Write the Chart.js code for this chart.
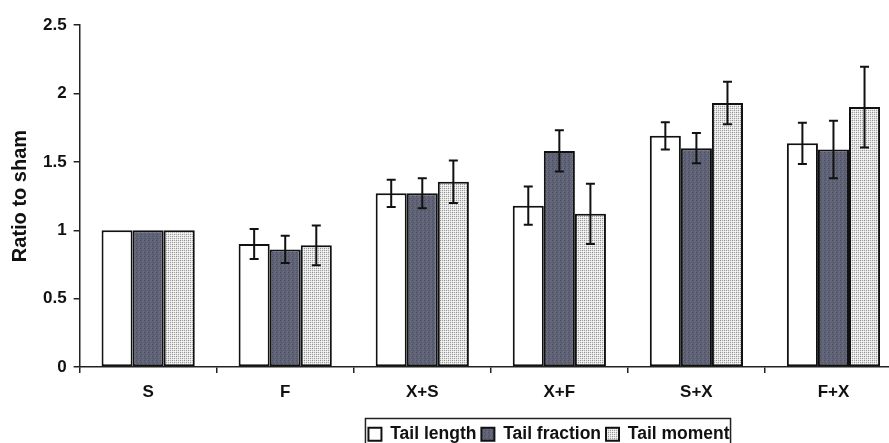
<!DOCTYPE html>
<html>
<head>
<meta charset="utf-8">
<script src="https://cdn.jsdelivr.net/npm/chart.js@4.4.1/dist/chart.umd.min.js"></script>
<style>
  html, body { margin: 0; padding: 0; background: #ffffff; overflow: hidden; }
  #wrap { position: relative; width: 904px; height: 443px; }
</style>
</head>
<body>
<div id="wrap"><canvas id="chart"></canvas></div>
<script>
// Comet assay measures, expressed as ratio to sham, per exposure group
const categories = ['S', 'F', 'X+S', 'X+F', 'S+X', 'F+X'];
const tailLength = [1.00, 0.90, 1.27, 1.18, 1.69, 1.635];
const tailLengthErr = [0, 0.11, 0.10, 0.14, 0.10, 0.15];
const tailFraction = [1.00, 0.86, 1.27, 1.58, 1.60, 1.59];
const tailFractionErr = [0, 0.10, 0.11, 0.15, 0.11, 0.21];
const tailMoment = [1.00, 0.89, 1.355, 1.12, 1.93, 1.90];
const tailMomentErr = [0, 0.145, 0.155, 0.22, 0.155, 0.295];
const yTicks = [0, 0.5, 1, 1.5, 2, 2.5];

const FONT = '"Liberation Sans", Arial, Helvetica, sans-serif';

// Stippled fills for the shaded bars
function makePattern(bg, dots) {
  const c = document.createElement('canvas');
  c.width = 4; c.height = 4;
  const g = c.getContext('2d');
  g.fillStyle = bg;
  g.fillRect(0, 0, 4, 4);
  dots.forEach(([x, y, col]) => { g.fillStyle = col; g.fillRect(x, y, 1, 1); });
  return g.createPattern(c, 'repeat');
}
const darkFill = makePattern('#5e6173', [
  [0, 0, '#4c4f60'], [2, 1, '#70738a'], [1, 2, '#53566a'], [3, 3, '#6c6f82'], [3, 0, '#676a7c']
]);
const lightFill = makePattern('#e2e2e2', [
  [0, 0, '#8f8f8f'], [2, 0, '#ababab'], [0, 2, '#ababab'], [2, 2, '#9a9a9a'],
  [1, 1, '#ffffff'], [3, 3, '#ffffff'], [3, 1, '#f2f2f2'], [1, 3, '#f2f2f2']
]);

// Error bars drawn on each bar through the value scale
const errorBars = {
  id: 'errorBars',
  afterDatasetsDraw(chart) {
    const ctx = chart.ctx;
    const y = chart.scales.y;
    chart.data.datasets.forEach((ds, i) => {
      const meta = chart.getDatasetMeta(i);
      meta.data.forEach((bar, j) => {
        const e = ds.errors[j];
        if (!e) return;
        const v = ds.data[j];
        const top = y.getPixelForValue(v + e);
        const bot = y.getPixelForValue(v - e);
        const x = bar.x;
        ctx.save();
        ctx.strokeStyle = '#111111';
        ctx.lineWidth = 2;
        ctx.beginPath();
        ctx.moveTo(x, top); ctx.lineTo(x, bot);
        ctx.moveTo(x - 4.5, top); ctx.lineTo(x + 4.5, top);
        ctx.moveTo(x - 4.5, bot); ctx.lineTo(x + 4.5, bot);
        ctx.stroke();
        ctx.restore();
      });
    });
  }
};

// Moves the legend right of centre and lower, then frames it with a box
const legendFrame = {
  id: 'legendFrame',
  afterLayout(chart) {
    const lg = chart.legend;
    const dx = 95, dy = 9;
    lg.left += dx; lg.right += dx;
    lg.top += dy; lg.bottom += dy;
  },
  afterDraw(chart) {
    const lg = chart.legend;
    const hb = lg.legendHitBoxes;
    if (!hb || !hb.length) return;
    const l = Math.min(...hb.map(b => b.left)) - 3;
    const r = Math.max(...hb.map(b => b.left + b.width)) + 1;
    const t = Math.min(...hb.map(b => b.top)) - 7;
    const b = Math.max(...hb.map(b => b.top + b.height)) + 6;
    const ctx = chart.ctx;
    ctx.save();
    ctx.strokeStyle = '#222222';
    ctx.lineWidth = 1.5;
    ctx.strokeRect(l, t, r - l, b - t);
    ctx.restore();
  }
};

const barBase = { borderColor: '#111111', borderWidth: 2, borderSkipped: false };

new Chart(document.getElementById('chart'), {
  type: 'bar',
  data: {
    labels: categories,
    datasets: [
      Object.assign({ label: 'Tail length', data: tailLength, errors: tailLengthErr, backgroundColor: '#ffffff' }, barBase),
      Object.assign({ label: 'Tail fraction', data: tailFraction, errors: tailFractionErr, backgroundColor: darkFill }, barBase),
      Object.assign({ label: 'Tail moment', data: tailMoment, errors: tailMomentErr, backgroundColor: lightFill }, barBase)
    ]
  },
  options: {
    responsive: true,
    maintainAspectRatio: false,
    animation: false,
    devicePixelRatio: 1,
    layout: { padding: { top: 25, right: 2, left: 6, bottom: -1 } },
    datasets: { bar: { barPercentage: 1.0, categoryPercentage: 0.68 } },
    scales: {
      x: {
        grid: { display: true, drawOnChartArea: false, offset: true, color: '#222222', tickLength: 6, lineWidth: 1.5 },
        border: { display: true, color: '#222222', width: 1.5 },
        ticks: { color: '#111111', font: { family: FONT, size: 17, weight: 'bold' }, padding: 9 }
      },
      y: {
        min: 0, max: 2.5,
        afterBuildTicks(scale) { scale.ticks = yTicks.map(v => ({ value: v })); },
        grid: { display: true, drawOnChartArea: false, color: '#222222', tickLength: 6, lineWidth: 1.5 },
        border: { display: true, color: '#222222', width: 1.5 },
        ticks: {
          color: '#111111', font: { family: FONT, size: 17, weight: 'bold' }, padding: 7,
          callback: v => String(v)
        },
        title: { display: true, text: 'Ratio to sham', color: '#111111', font: { family: FONT, size: 20, weight: 'bold' }, padding: { top: 2, bottom: 4 } }
      }
    },
    plugins: {
      legend: {
        display: true,
        position: 'bottom',
        labels: {
          color: '#111111',
          font: { family: FONT, size: 17.5, weight: 'bold' },
          boxWidth: 13, boxHeight: 13, padding: 5
        }
      },
      tooltip: { enabled: false }
    }
  },
  plugins: [errorBars, legendFrame]
});
</script>
</body>
</html>
